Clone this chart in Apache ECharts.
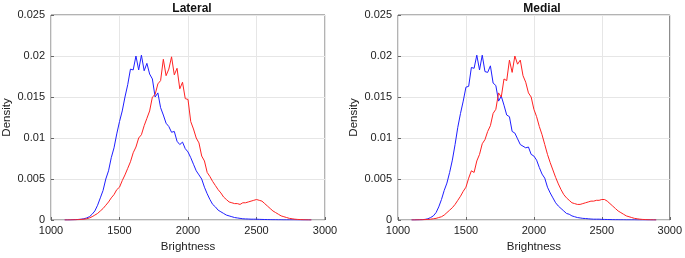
<!DOCTYPE html>
<html>
<head>
<meta charset="utf-8">
<script src="https://cdn.jsdelivr.net/npm/echarts@6/dist/echarts.min.js"></script>
<style>
  html, body { margin: 0; padding: 0; background: #fff; }
  #chart { width: 685px; height: 258px; }
</style>
</head>
<body>
<div id="chart"></div>
<script>
// brightness grid shared by all curves (step 20)
const brightness = [];
for (let b = 1100; b <= 2900; b += 20) brightness.push(b);

const lateralBlue = [
  0, 0, 0, 0.00002, 0.00004, 0.00007, 0.0001, 0.00015, 0.00025, 0.0004,
  0.0007, 0.0011, 0.0018, 0.0027, 0.0036, 0.0050, 0.0060, 0.0076, 0.0088, 0.0105,
  0.0120, 0.0133, 0.0150, 0.0165, 0.0184, 0.0183, 0.0200, 0.0183, 0.0201, 0.0182,
  0.0191, 0.0178, 0.0172, 0.0150, 0.0155, 0.0137, 0.0128, 0.0118, 0.0114, 0.0107,
  0.0108, 0.0096, 0.0092, 0.0095, 0.0087, 0.0083, 0.0076, 0.0068, 0.0060, 0.0055,
  0.0050, 0.0040, 0.0032, 0.0025, 0.0019, 0.0016, 0.0012, 0.0010, 0.0008, 0.0006,
  0.0005, 0.0004, 0.0003, 0.00025, 0.0002, 0.00015, 0.00013, 0.00012, 0.0001, 0.0001,
  0.0001, 0.00008, 0.00007, 0.00006, 0.00005, 0.00004, 0.00003, 0.00003, 0.00002, 0.00002,
  0.00001, 0.00001, 0.00001, 0.00001, 0.00001, 0, 0, 0, 0, 0,
  0
];
const lateralRed = [
  0, 0, 0.00001, 0.00002, 0.00003, 0.00005, 0.00007, 0.0001, 0.00015, 0.00025,
  0.0004, 0.0006, 0.0008, 0.0011, 0.0014, 0.0018, 0.0022, 0.0027, 0.0031, 0.0037,
  0.0040, 0.0048, 0.0055, 0.0063, 0.0071, 0.0082, 0.0089, 0.0100, 0.0104, 0.0115,
  0.0124, 0.0133, 0.0150, 0.0153, 0.0166, 0.0170, 0.0196, 0.0176, 0.0184, 0.0199,
  0.0177, 0.0185, 0.0160, 0.0168, 0.0148, 0.0147, 0.0120, 0.0111, 0.0100, 0.0094,
  0.0078, 0.0072, 0.0058, 0.0053, 0.0047, 0.0042, 0.0037, 0.0033, 0.0028, 0.0025,
  0.0022, 0.0021, 0.0020, 0.0020, 0.0019, 0.0021, 0.0021, 0.0022, 0.0023, 0.0024,
  0.0025, 0.0024, 0.0023, 0.0020, 0.0017, 0.0014, 0.0011, 0.0009, 0.0007, 0.0005,
  0.0004, 0.0003, 0.0002, 0.00015, 0.0001, 0.00007, 0.00005, 0.00003, 0.00002, 0.00001,
  0
];
const medialBlue = [
  0, 0, 0.00001, 0.00002, 0.00004, 0.00008, 0.00015, 0.0003, 0.0005, 0.0009,
  0.0016, 0.0025, 0.0036, 0.0045, 0.0058, 0.0073, 0.0092, 0.0113, 0.0130, 0.0145,
  0.0162, 0.0163, 0.0186, 0.0185, 0.0201, 0.0183, 0.0201, 0.0181, 0.0180, 0.0188,
  0.0167, 0.0164, 0.0145, 0.0151, 0.0140, 0.0128, 0.0126, 0.0108, 0.0106, 0.0099,
  0.0092, 0.0090, 0.0088, 0.0089, 0.0080, 0.0078, 0.0073, 0.0064, 0.0056, 0.0051,
  0.0040, 0.0033, 0.0027, 0.0021, 0.0017, 0.0014, 0.0011, 0.0008, 0.0007, 0.0005,
  0.0004, 0.0003, 0.00025, 0.0002, 0.00018, 0.00015, 0.00012, 0.0001, 0.0001, 0.0001,
  0.00008, 0.00007, 0.00006, 0.00005, 0.00004, 0.00003, 0.00003, 0.00002, 0.00002, 0.00001,
  0.00001, 0.00001, 0.00001, 0, 0, 0, 0, 0, 0, 0,
  0
];
const medialRed = [
  0, 0, 0.00001, 0.00002, 0.00003, 0.00005, 0.00007, 0.0001, 0.00015, 0.0002,
  0.0003, 0.0004, 0.0006, 0.0009, 0.0012, 0.0015, 0.0019, 0.0024, 0.0029, 0.0035,
  0.0040, 0.0051, 0.0060, 0.0058, 0.0072, 0.0080, 0.0093, 0.0098, 0.0108, 0.0115,
  0.0130, 0.0135, 0.0155, 0.0150, 0.0172, 0.0170, 0.0195, 0.0180, 0.0200, 0.0190,
  0.0195, 0.0176, 0.0168, 0.0155, 0.0150, 0.0135, 0.0126, 0.0114, 0.0104, 0.0092,
  0.0080, 0.0070, 0.0061, 0.0052, 0.0044, 0.0037, 0.0031, 0.0027, 0.0024, 0.0021,
  0.0020, 0.0019, 0.0019, 0.0020, 0.0021, 0.0022, 0.0023, 0.0023, 0.0024, 0.0024,
  0.0025, 0.0025, 0.0023, 0.0020, 0.0017, 0.0014, 0.0011, 0.0009, 0.0007, 0.0005,
  0.0004, 0.0003, 0.0002, 0.00015, 0.0001, 0.00007, 0.00005, 0.00003, 0.00002, 0.00001,
  0
];

const titles = ["Lateral", "Medial"];
const xTicks = [1000, 3000, 500];
const yTicks = [0, 0.025, 0.005];

const font = "'Liberation Sans', Arial, sans-serif";
const pairs = ys => brightness.map((b, i) => [b, ys[i]]);

const grids = [
  { left: 49, right: 360, top: 15, bottom: 32 },
  { left: 398, right: 10, top: 15, bottom: 32 }
];

const xAxis = grids.map((g, i) => ({
  type: "value",
  gridIndex: i,
  min: xTicks[0],
  max: xTicks[1],
  interval: xTicks[2],
  name: "Brightness",
  nameLocation: "middle",
  nameGap: 21,
  nameTextStyle: { fontFamily: font, fontSize: 11.5, color: "#222" },
  axisLine: { show: false },
  axisTick: { show: true, inside: true, length: 3, lineStyle: { color: "#666" } },
  axisLabel: { fontFamily: font, fontSize: 11, color: "#222", margin: 5, formatter: v => String(v) },
  splitLine: { show: true, lineStyle: { color: "#e6e6e6", width: 1 } }
}));

const yAxis = grids.map((g, i) => ({
  type: "value",
  gridIndex: i,
  min: yTicks[0],
  max: yTicks[1],
  interval: yTicks[2],
  name: "Density",
  nameLocation: "middle",
  nameGap: 38,
  nameTextStyle: { fontFamily: font, fontSize: 11.5, color: "#222" },
  axisLine: { show: false },
  axisTick: { show: true, inside: true, length: 3, lineStyle: { color: "#666" } },
  axisLabel: {
    fontFamily: font, fontSize: 11, color: "#222", margin: 6,
    formatter: v => (v === 0 ? "0" : String(+v.toFixed(3)))
  },
  splitLine: { show: true, lineStyle: { color: "#e6e6e6", width: 1 } }
}));

const curves = [
  [lateralBlue, lateralRed],
  [medialBlue, medialRed]
];
const series = [];
curves.forEach((pair, gi) => {
  ["#1f1fff", "#ff2222"].forEach((c, k) => {
    series.push({
      type: "line",
      xAxisIndex: gi,
      yAxisIndex: gi,
      data: pairs(pair[k]),
      showSymbol: false,
      silent: true,
      animation: false,
      lineStyle: { color: c, width: 1 }
    });
  });
});

const chart = echarts.init(document.getElementById("chart"));
chart.setOption({
  animation: false,
  title: titles.map((t, i) => ({
    text: t,
    left: i === 0 ? 187 : 537,
    top: -2,
    textAlign: "center",
    textStyle: { fontFamily: font, fontSize: 12, fontWeight: "bold", color: "#111" }
  })),
  grid: grids.map(g => ({ ...g, show: true, borderColor: "#666", borderWidth: 1 })),
  xAxis,
  yAxis,
  series
});
</script>
</body>
</html>
